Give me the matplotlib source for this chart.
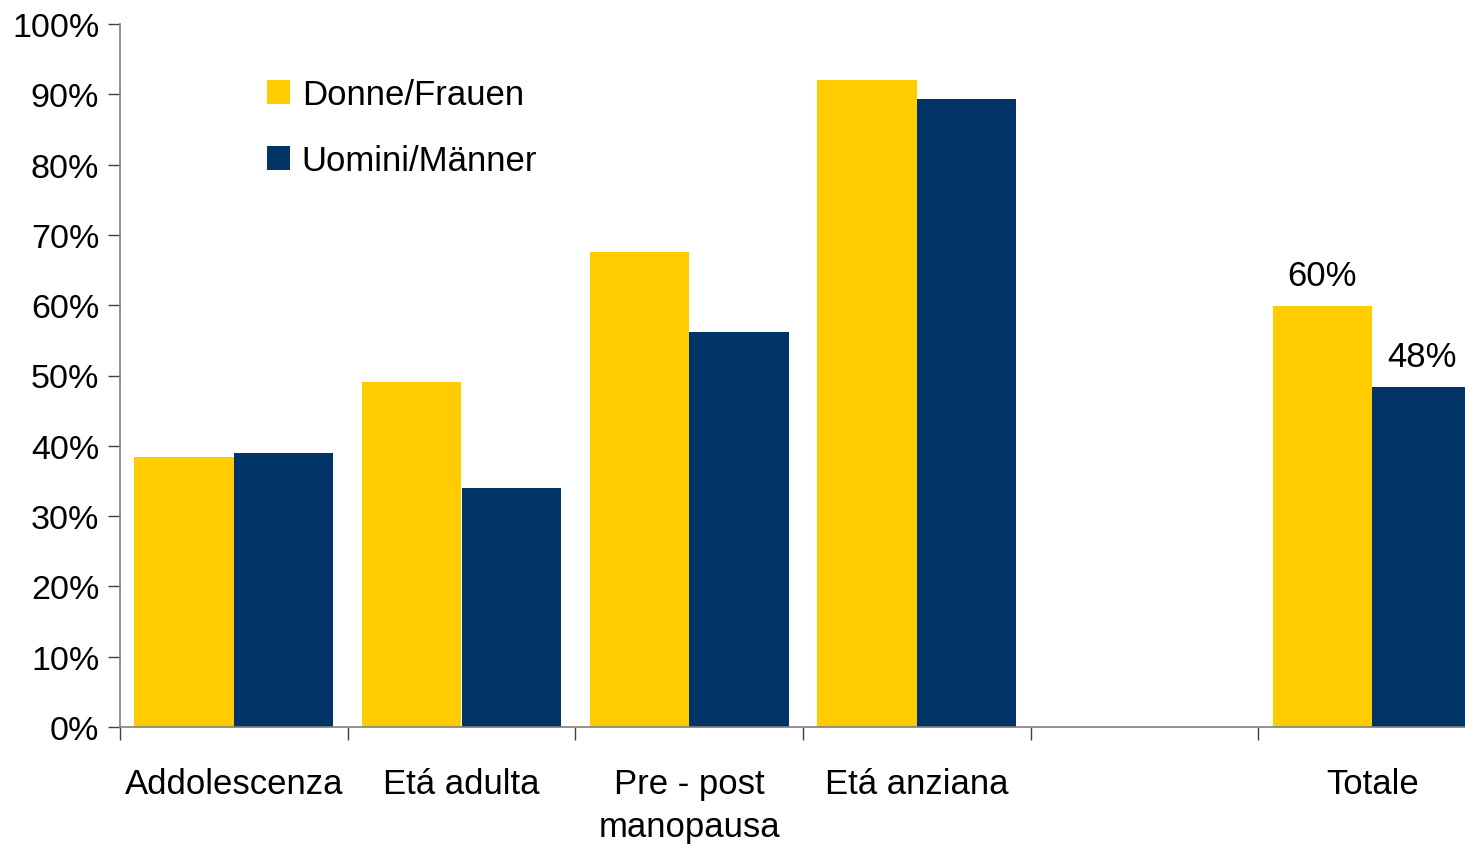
import matplotlib
matplotlib.use("Agg")
import matplotlib.pyplot as plt
import numpy as np
from matplotlib.patches import Patch
from matplotlib.ticker import FixedLocator, FuncFormatter

plt.rcParams['font.family'] = ['Liberation Sans', 'DejaVu Sans']

categories = ["Addolescenza", "Etá adulta", "Pre - post\nmanopausa", "Etá anziana", "", "Totale"]
donne = [38.4, 49.1, 67.6, 92.0, np.nan, 59.9]
uomini = [39.0, 34.0, 56.2, 89.3, np.nan, 48.4]
series_names = ["Donne/Frauen", "Uomini/Männer"]
labels_totale = ["60%", "48%"]
yticks = [0, 10, 20, 30, 40, 50, 60, 70, 80, 90, 100]

c_yellow = "#FFCC00"
c_blue = "#003366"
fs = 25

W, H = 1465, 845
fig = plt.figure(figsize=(W / 100, H / 100), dpi=100)
ax = fig.add_axes([120 / W, (H - 728) / H, (1486 - 120) / W, (728 - 25) / H])

x = np.arange(len(categories))
bw = 0.437
ax.bar(x - bw / 2, donne, bw, color=c_yellow, linewidth=0, zorder=2)
ax.bar(x + bw / 2, uomini, bw, color=c_blue, linewidth=0, zorder=2)

# value labels for Totale
i = len(categories) - 1
ax.text(i - bw / 2, donne[i] + 2.0, labels_totale[0], ha='center', va='bottom', fontsize=fs)
ax.text(i + bw / 2, uomini[i] + 2.0, labels_totale[1], ha='center', va='bottom', fontsize=fs)

ax.set_xlim(-0.5, len(categories) - 0.5)
ax.set_ylim(0, 100)
ax.yaxis.set_major_locator(FixedLocator(yticks))
ax.yaxis.set_major_formatter(FuncFormatter(lambda v, p: f"{int(v)}%"))
ax.set_xticks(x)
ax.set_xticklabels(categories, fontsize=fs, linespacing=1.38)
ax.set_xticks(np.arange(-0.5, len(categories)), minor=True)
ax.tick_params(axis='x', which='major', length=0, pad=29)
ax.tick_params(axis='x', which='minor', length=9, width=1, color='#404040', direction='out')
ax.tick_params(axis='y', which='major', length=9, width=1, color='#404040', labelsize=24.5, pad=6)

for s in ['top', 'right']:
    ax.spines[s].set_visible(False)
for s in ['left', 'bottom']:
    ax.spines[s].set_color('#808080')
    ax.spines[s].set_linewidth(1.2)
    ax.spines[s].set_zorder(3)

handles = [Patch(facecolor=c_yellow, edgecolor='none'), Patch(facecolor=c_blue, edgecolor='none')]
fig.legend(handles, series_names, loc='upper left', bbox_to_anchor=(267 / W, 1 - 79 / H),
           frameon=False, fontsize=fs, handlelength=0.66, handleheight=0.66,
           handletextpad=0.34, labelspacing=0.95, borderpad=0, borderaxespad=0)

fig.savefig("out.png", dpi=100)
